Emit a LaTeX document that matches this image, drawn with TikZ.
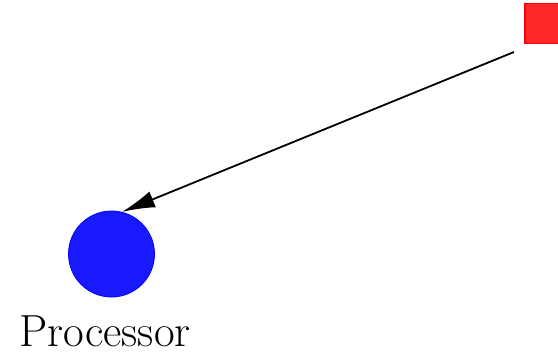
\documentclass[tikz,border=0pt]{standalone}
\usepackage{tikz}
\usetikzlibrary{arrows.meta, positioning}
\definecolor{boxred}{RGB}{255,40,40}
\definecolor{procblue}{RGB}{25,25,255}

\begin{document}
\begin{tikzpicture}[x=1pt,y=-1pt,
    procnode/.style={circle,fill=procblue,draw=blue,line width=0.8pt,minimum size=86pt,inner sep=0pt},
    srcbox/.style={rectangle,fill=boxred,draw=red,line width=1.2pt,minimum size=40pt,inner sep=0pt},
    msg/.style={line width=1.8pt,-{Latex[length=33pt,width=17pt]}}]
  \useasboundingbox (0,0) rectangle (558,356);
  \node[srcbox] (src) at (545,23.5) {};
  \node[procnode] (proc) at (111.5,254) {};
  \node[anchor=base,inner sep=0pt] (proclabel) at (105,346) {\fontsize{45}{54}\selectfont Processor};
  \coordinate (start) at (514,52);
  \draw[msg] (start) -- (proc.76);
\end{tikzpicture}
\end{document}
